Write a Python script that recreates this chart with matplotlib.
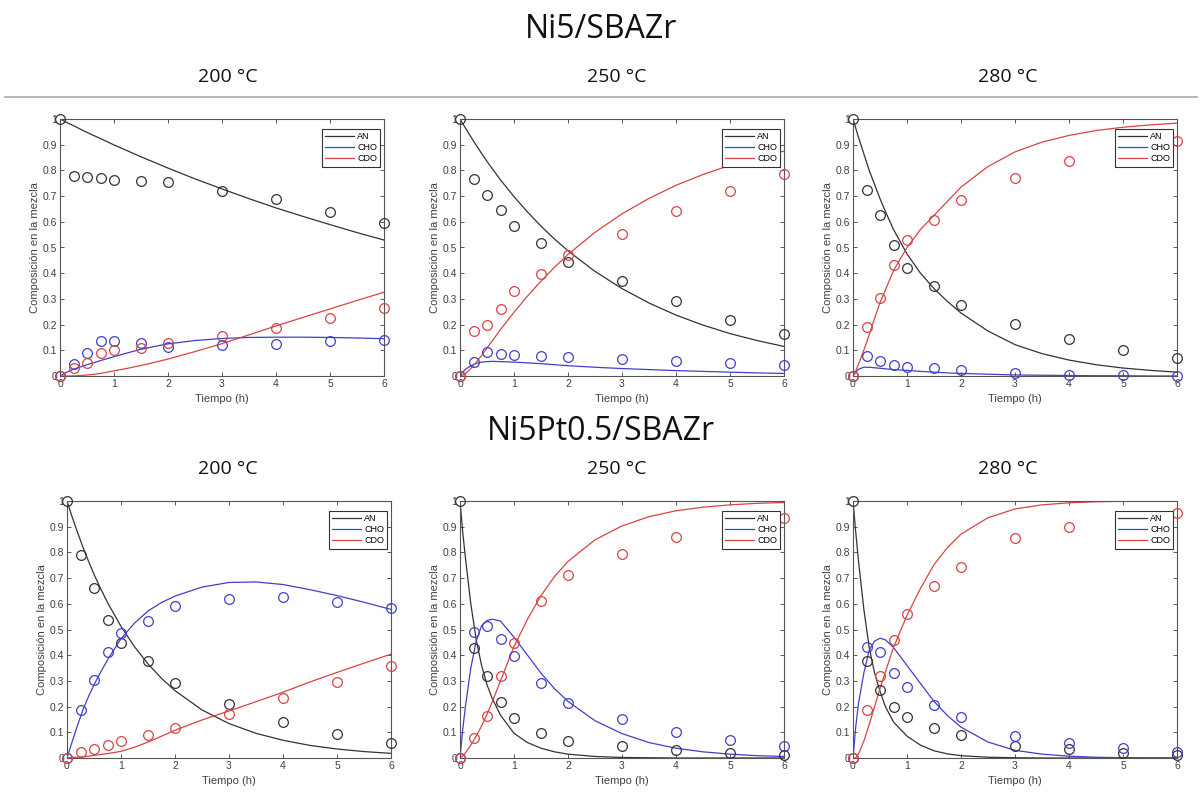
import numpy as np
import matplotlib
matplotlib.use("Agg")
from matplotlib import pyplot as plt
from matplotlib.lines import Line2D

# tiempos de muestreo (h) y malla para las curvas del modelo
t_exp = [0, 0.25, 0.5, 0.75, 1, 1.5, 2, 3, 4, 5, 6]
t_mod = [0, 0.05, 0.1, 0.2, 0.3, 0.4, 0.5, 0.6, 0.75, 1, 1.25, 1.5, 1.75, 2,
         2.5, 3, 3.5, 4, 4.5, 5, 5.5, 6]
nan = np.nan

# Ni5/SBAZr 200 C
an_exp_a = [1, 0.78, 0.775, 0.77, 0.762, 0.758, 0.755, 0.72, 0.69, 0.64, 0.595]
cho_exp_a = [0, 0.045, 0.09, 0.137, 0.135, 0.128, 0.113, 0.12, 0.123, 0.135, 0.142]
cdo_exp_a = [0, 0.03, 0.05, 0.09, 0.1, 0.11, 0.13, 0.155, 0.185, 0.225, 0.265]
an_mod_a = [1, 0.995, 0.989, 0.979, 0.969, 0.958, 0.948, 0.938, 0.924, 0.899, 0.876,
            0.853, 0.831, 0.809, 0.767, 0.728, 0.690, 0.654, 0.621, 0.589, 0.558, 0.529]
cho_mod_a = [0, 0.006, 0.012, 0.022, 0.030, 0.037, 0.044, 0.050, 0.060, 0.075, 0.090,
             0.104, 0.115, 0.125, 0.138, 0.146, 0.150, 0.151, 0.151, 0.150, 0.148, 0.145]
cdo_mod_a = [0, 0, 0, 0, 0.001, 0.002, 0.004, 0.006, 0.010, 0.020, 0.030,
             0.041, 0.053, 0.066, 0.095, 0.126, 0.160, 0.195, 0.228, 0.261, 0.294, 0.326]

# Ni5/SBAZr 250 C
an_exp_b = [1, 0.768, 0.706, 0.645, 0.583, 0.518, 0.445, 0.37, 0.29, 0.218, 0.162]
cho_exp_b = [0, 0.056, 0.095, 0.087, 0.082, 0.078, 0.073, 0.068, 0.058, 0.052, 0.043]
cdo_exp_b = [0, 0.177, 0.197, 0.262, 0.33, 0.395, 0.47, 0.552, 0.643, 0.72, 0.786]
an_mod_b = [1, 0.982, 0.965, 0.931, 0.898, 0.866, 0.835, 0.806, 0.763, 0.698, 0.638,
            0.583, 0.533, 0.487, 0.407, 0.340, 0.284, 0.237, 0.198, 0.165, 0.138, 0.115]
cho_mod_b = [0, 0.015, 0.026, 0.040, 0.049, 0.054, 0.056, 0.057, 0.056, 0.054, 0.051,
             0.048, 0.044, 0.040, 0.034, 0.029, 0.025, 0.021, 0.018, 0.015, 0.012, 0.010]
cdo_mod_b = [0, 0.003, 0.009, 0.029, 0.053, 0.080, 0.109, 0.137, 0.181, 0.248, 0.311,
             0.369, 0.423, 0.473, 0.559, 0.631, 0.691, 0.742, 0.784, 0.820, 0.850, 0.875]

# Ni5/SBAZr 280 C (CDO a 5 h queda tapado por la leyenda)
an_exp_c = [1, 0.723, 0.625, 0.511, 0.419, 0.349, 0.278, 0.203, 0.143, 0.1, 0.07]
cho_exp_c = [0, 0.078, 0.058, 0.044, 0.036, 0.03, 0.025, 0.01, 0.005, 0.003, 0.0]
cdo_exp_c = [0, 0.192, 0.304, 0.433, 0.53, 0.606, 0.683, 0.772, 0.836, nan, 0.915]
an_mod_c = [1, 0.965, 0.93, 0.865, 0.80, 0.745, 0.69, 0.64, 0.57, 0.475, 0.40,
            0.34, 0.29, 0.245, 0.175, 0.122, 0.087, 0.062, 0.044, 0.031, 0.022, 0.015]
cho_mod_c = [0, 0.015, 0.026, 0.034, 0.034, 0.032, 0.030, 0.028, 0.025, 0.022, 0.018,
             0.015, 0.012, 0.010, 0.007, 0.004, 0.003, 0.002, 0.001, 0.001, 0, 0]
cdo_mod_c = [0, 0.02, 0.045, 0.10, 0.16, 0.225, 0.285, 0.335, 0.41, 0.50, 0.57,
             0.625, 0.68, 0.735, 0.815, 0.872, 0.91, 0.936, 0.955, 0.968, 0.977, 0.984]

# Ni5Pt0.5/SBAZr 200 C
an_exp_d = [1, 0.791, 0.66, 0.536, 0.449, 0.378, 0.293, 0.21, 0.142, 0.094, 0.058]
cho_exp_d = [0, 0.186, 0.305, 0.413, 0.486, 0.535, 0.591, 0.617, 0.625, 0.608, 0.584]
cdo_exp_d = [0, 0.023, 0.035, 0.05, 0.065, 0.088, 0.117, 0.173, 0.234, 0.297, 0.358]
an_mod_d = [1, 0.967, 0.935, 0.875, 0.818, 0.765, 0.715, 0.669, 0.605, 0.512, 0.433,
            0.366, 0.310, 0.262, 0.187, 0.134, 0.096, 0.069, 0.049, 0.035, 0.025, 0.018]
cho_mod_d = [0, 0.034, 0.066, 0.13, 0.19, 0.24, 0.285, 0.325, 0.382, 0.464, 0.525,
             0.572, 0.605, 0.630, 0.665, 0.683, 0.685, 0.675, 0.655, 0.632, 0.606, 0.578]
cdo_mod_d = [0, 0.001, 0.002, 0.003, 0.005, 0.007, 0.010, 0.013, 0.017, 0.026, 0.042,
             0.062, 0.085, 0.108, 0.148, 0.183, 0.219, 0.256, 0.296, 0.333, 0.369, 0.404]

# Ni5Pt0.5/SBAZr 250 C
an_exp_e = [1, 0.427, 0.319, 0.218, 0.155, 0.099, 0.068, 0.047, 0.03, 0.019, 0.013]
cho_exp_e = [0, 0.492, 0.514, 0.462, 0.397, 0.29, 0.214, 0.152, 0.101, 0.07, 0.045]
cdo_exp_e = [0, 0.079, 0.164, 0.318, 0.447, 0.609, 0.713, 0.794, 0.861, nan, 0.935]
an_mod_e = [1, 0.88, 0.78, 0.60, 0.46, 0.36, 0.285, 0.23, 0.167, 0.096, 0.06,
            0.038, 0.024, 0.015, 0.006, 0.002, 0.001, 0, 0, 0, 0, 0]
cho_mod_e = [0, 0.11, 0.20, 0.35, 0.455, 0.515, 0.535, 0.54, 0.533, 0.47, 0.40,
             0.33, 0.27, 0.22, 0.145, 0.095, 0.06, 0.038, 0.024, 0.015, 0.009, 0.006]
cdo_mod_e = [0, 0.008, 0.02, 0.05, 0.085, 0.125, 0.17, 0.22, 0.30, 0.434, 0.54,
             0.632, 0.706, 0.765, 0.849, 0.903, 0.939, 0.962, 0.976, 0.985, 0.991, 0.994]

# Ni5Pt0.5/SBAZr 280 C
an_exp_f = [1, 0.379, 0.264, 0.199, 0.158, 0.116, 0.089, 0.047, 0.034, 0.021, 0.013]
cho_exp_f = [0, 0.431, 0.411, 0.332, 0.275, 0.206, 0.158, 0.085, 0.06, 0.04, 0.023]
cdo_exp_f = [0, 0.1875, 0.318, 0.461, 0.561, 0.668, 0.745, 0.857, 0.9, nan, 0.953]
an_mod_f = [1, 0.88, 0.77, 0.58, 0.43, 0.33, 0.26, 0.20, 0.14, 0.085, 0.05,
            0.028, 0.016, 0.009, 0.003, 0.001, 0, 0, 0, 0, 0, 0]
cho_mod_f = [0, 0.12, 0.21, 0.33, 0.42, 0.455, 0.466, 0.46, 0.43, 0.36, 0.29,
             0.22, 0.165, 0.12, 0.062, 0.03, 0.015, 0.007, 0.003, 0.001, 0, 0]
cdo_mod_f = [0, 0.0, 0.015, 0.065, 0.13, 0.20, 0.27, 0.335, 0.43, 0.555, 0.66,
             0.752, 0.819, 0.871, 0.935, 0.969, 0.985, 0.993, 0.997, 0.999, 1.0, 1.0]

species = ['AN', 'CHO', 'CDO']
colors = ['#333333', '#4040c8', '#d84444']
temps = ['200 °C', '250 °C', '280 °C']
catalysts = ['Ni5/SBAZr', 'Ni5Pt0.5/SBAZr']

panels = [
    ([an_exp_a, cho_exp_a, cdo_exp_a], [an_mod_a, cho_mod_a, cdo_mod_a]),
    ([an_exp_b, cho_exp_b, cdo_exp_b], [an_mod_b, cho_mod_b, cdo_mod_b]),
    ([an_exp_c, cho_exp_c, cdo_exp_c], [an_mod_c, cho_mod_c, cdo_mod_c]),
    ([an_exp_d, cho_exp_d, cdo_exp_d], [an_mod_d, cho_mod_d, cdo_mod_d]),
    ([an_exp_e, cho_exp_e, cdo_exp_e], [an_mod_e, cho_mod_e, cdo_mod_e]),
    ([an_exp_f, cho_exp_f, cdo_exp_f], [an_mod_f, cho_mod_f, cdo_mod_f]),
]

# posicion de cada eje en pixeles (izq, arriba), todos del mismo tamano
W, H = 1202, 792
boxes = [(60, 119), (460, 119), (853, 119), (67, 501), (460, 501), (853, 501)]
ax_w, ax_h = 324, 257

fig = plt.figure(figsize=(W / 100, H / 100), dpi=100)
fig.patch.set_facecolor('white')

gray = '#404040'

for i, (exp_vals, mod_vals) in enumerate(panels):
    x0, y0 = boxes[i]
    ax = fig.add_axes([x0 / W, (H - y0 - ax_h) / H, ax_w / W, ax_h / H])
    for k in range(3):
        ax.plot(t_mod, mod_vals[k], color=colors[k], lw=0.9, label=species[k])
    for k in range(3):
        ax.plot(t_exp, exp_vals[k], 'o', mfc='none', mec=colors[k], ms=7,
                mew=0.9, clip_on=False, zorder=3)
    ax.set_xlim(0, 6)
    ax.set_ylim(0, 1)
    ax.set_xticks(range(7))
    ax.set_yticks(np.arange(0, 1.01, 0.1))
    ax.set_yticklabels(['0'] + ['%.1f' % v for v in np.arange(0.1, 0.95, 0.1)] + ['1'])
    ax.tick_params(direction='in', top=True, right=True, length=3, width=0.6,
                   colors=gray, pad=2)
    for lab in ax.get_xticklabels() + ax.get_yticklabels():
        lab.set_fontfamily('Liberation Sans')
        lab.set_fontsize(7.5)
    for sp in ax.spines.values():
        sp.set_color('#555555')
        sp.set_linewidth(0.8)
    ax.set_xlabel('Tiempo (h)', fontsize=8, family='Liberation Sans', color=gray, labelpad=4)
    ax.set_ylabel('Composición en la mezcla', fontsize=8, family='Liberation Sans',
                  color=gray, labelpad=2)
    leg = ax.legend(loc='upper right', bbox_to_anchor=(0.988, 0.962), borderaxespad=0,
                    prop={'family': 'Liberation Sans', 'size': 6.5},
                    frameon=True, fancybox=False, framealpha=1, edgecolor='#333333',
                    handlelength=3.2, handletextpad=0.3, labelspacing=0.25,
                    borderpad=0.35)
    leg.get_frame().set_linewidth(0.8)
    leg.set_zorder(5)

# titulos de cada fila
title_font = 'Open Sans'
fig.text(601 / W, 1 - 30 / H, catalysts[0], ha='center', va='center', fontsize=23,
         family=title_font, color='#111111')
fig.text(601 / W, 1 - 432 / H, catalysts[1], ha='center', va='center', fontsize=23,
         family=title_font, color='#111111')
for j, xc in enumerate([228, 617, 1008]):
    fig.text(xc / W, 1 - 77 / H, temps[j], ha='center', va='center', fontsize=14,
             family=title_font, color='#111111')
    fig.text(xc / W, 1 - 469 / H, temps[j], ha='center', va='center', fontsize=14,
             family=title_font, color='#111111')

fig.add_artist(Line2D([5 / W, 1197 / W], [1 - 97 / H, 1 - 97 / H], color='#aaaaaa', lw=1.2))

fig.savefig('out.png', dpi=100)
